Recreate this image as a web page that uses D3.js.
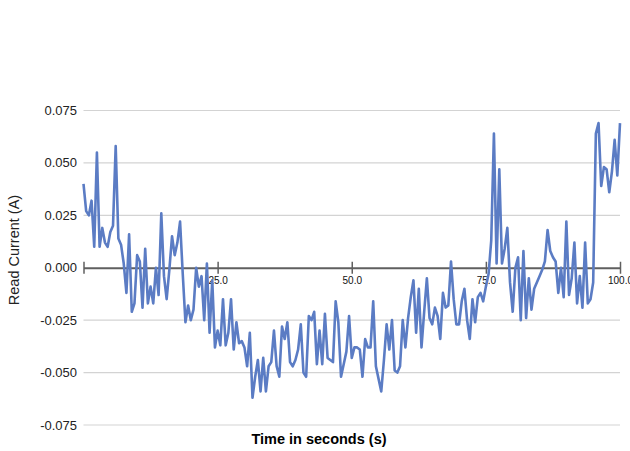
<!DOCTYPE html>
<html>
<head>
<meta charset="utf-8">
<script src="https://cdn.jsdelivr.net/npm/d3@7"></script>
<style>
  html, body { margin: 0; padding: 0; background: #fff; }
  svg { display: block; font-family: "Liberation Sans", Arial, sans-serif; }
</style>
</head>
<body>
<svg id="chart" width="630" height="451"></svg>
<script>
// ---- data ----
const timeStep = 0.5; // seconds between samples
const current0 = [0.040,0.027,0.025,0.032,0.010,0.055,0.010,0.019,0.012,0.010,0.017,0.020,0.058,0.014,0.011,0.002,-0.012,0.016,-0.021,-0.017,0.006,0.003,-0.019,0.009,-0.017,-0.009,-0.017,0.000,-0.013,0.026,-0.004,-0.015,-0.001,0.015,0.006,0.012,0.022,-0.003,-0.026,-0.018,-0.025,-0.020,0.000,-0.009,-0.004,-0.025,0.002,-0.031,-0.006,-0.038];
const current1 = [-0.030,-0.037,-0.015,-0.037,-0.031,-0.015,-0.039,-0.026,-0.036,-0.035,-0.038,-0.047,-0.031,-0.062,-0.052,-0.044,-0.059,-0.043,-0.059,-0.047,-0.045,-0.030,-0.047,-0.052,-0.028,-0.034,-0.026,-0.045,-0.047,-0.044,-0.039,-0.027,-0.050,-0.052,-0.023,-0.025,-0.021,-0.046,-0.030,-0.046,-0.022,-0.043,-0.044,-0.045,-0.016,-0.026,-0.052,-0.046,-0.040,-0.023];
const current2 = [-0.043,-0.038,-0.038,-0.039,-0.052,-0.034,-0.038,-0.038,-0.016,-0.047,-0.053,-0.059,-0.044,-0.027,-0.039,-0.025,-0.049,-0.050,-0.047,-0.025,-0.038,-0.024,-0.014,-0.006,-0.031,-0.010,-0.038,-0.021,-0.005,-0.024,-0.027,-0.019,-0.023,-0.034,-0.012,-0.019,-0.018,0.003,-0.015,-0.027,-0.027,-0.016,-0.010,-0.025,-0.034,-0.015,-0.026,-0.014,-0.012,-0.016];
const current3 = [-0.009,-0.003,0.013,0.064,0.002,0.047,0.002,0.009,0.019,-0.007,-0.021,0.000,0.005,-0.025,0.008,-0.024,-0.005,-0.020,-0.010,-0.007,-0.004,-0.001,0.003,0.018,0.008,0.005,0.003,-0.012,0.000,-0.014,0.022,-0.013,-0.005,0.012,-0.017,-0.004,-0.019,0.012,-0.017,-0.015,-0.007,0.064,0.069,0.039,0.048,0.047,0.036,0.046,0.061,0.044,0.069];
const readCurrent = current0.concat(current1, current2, current3);

const xTickValues = [0, 25, 50, 75, 100];
const xTickLabels = ["", "25.0", "50.0", "75.0", "100.0"];
const yTickValues = [-0.075, -0.05, -0.025, 0, 0.025, 0.05, 0.075];
const yTickLabels = ["-0.075", "-0.050", "-0.025", "0.000", "0.025", "0.050", "0.075"];
const xTitle = "Time in seconds (s)";
const yTitle = "Read Current (A)";

// ---- drawing ----
const svg = d3.select("#chart");
const x = d3.scaleLinear().domain([0, 100]).range([83.5, 620]);
const y = d3.scaleLinear().domain([-0.075, 0.075]).range([425, 110.5]);

const points = readCurrent.map((v, i) => ({ t: i * timeStep, v }));

// gridlines (not at zero, the axis sits there)
svg.append("g").selectAll("line")
  .data(yTickValues.filter(d => d !== 0))
  .join("line")
  .attr("x1", x(0)).attr("x2", x(100))
  .attr("y1", d => y(d)).attr("y2", d => y(d))
  .attr("stroke", "#d3d3d3").attr("stroke-width", 1.2);

// y labels
svg.append("g").selectAll("text")
  .data(yTickValues)
  .join("text")
  .attr("x", 77).attr("y", d => y(d))
  .attr("dy", "0.35em")
  .attr("text-anchor", "end")
  .attr("font-size", 13)
  .attr("fill", "#222")
  .text((d, i) => yTickLabels[i]);

// x axis on zero
const xAxis = d3.axisBottom(x)
  .tickValues(xTickValues)
  .tickFormat((d, i) => xTickLabels[i])
  .tickSizeOuter(0)
  .tickSizeInner(6)
  .tickPadding(3);
const gx = svg.append("g").attr("transform", `translate(0,${y(0)})`).call(xAxis);
gx.select(".domain").attr("stroke", "#5f5f5f").attr("stroke-width", 2);
gx.selectAll(".tick line").attr("stroke", "#5f5f5f").attr("stroke-width", 1.5)
  .attr("y1", -6).attr("y2", 6);
gx.selectAll(".tick text").attr("font-size", 10).attr("fill", "#111")
  .attr("font-family", "\"Liberation Sans\", Arial, sans-serif");

// data line
svg.append("path")
  .datum(points)
  .attr("fill", "none")
  .attr("stroke", "#5b7cc4")
  .attr("stroke-width", 2.6)
  .attr("stroke-linejoin", "round")
  .attr("d", d3.line().x(d => x(d.t)).y(d => y(d.v)));

// titles
svg.append("text")
  .attr("x", 319).attr("y", 444)
  .attr("text-anchor", "middle")
  .attr("font-size", 14.5).attr("font-weight", "bold")
  .attr("fill", "#000")
  .text(xTitle);

svg.append("text")
  .attr("transform", "translate(19,250) rotate(-90)")
  .attr("text-anchor", "middle")
  .attr("font-size", 14.5)
  .attr("fill", "#222")
  .text(yTitle);
</script>
</body>
</html>
